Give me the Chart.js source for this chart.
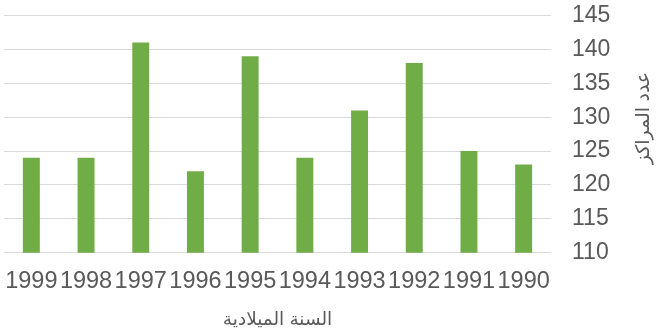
<!DOCTYPE html>
<html>
<head>
<meta charset="utf-8">
<script src="https://cdn.jsdelivr.net/npm/chart.js@4"></script>
<style>
  html, body { margin: 0; padding: 0; background: #fff; }
  #wrap { width: 659px; height: 335px; }
</style>
</head>
<body>
<div id="wrap"><canvas id="grafico"></canvas></div>
<script>
const anos = ['1999', '1998', '1997', '1996', '1995', '1994', '1993', '1992', '1991', '1990'];
const centros = [124, 124, 141, 122, 139, 124, 131, 138, 125, 123];
const yMin = 110;
const yMax = 145;
const yPasso = 5;
const tituloX = 'السنة الميلادية';
const tituloY = 'عدد المراكز';

const cinza = '#595959';
const fonte = "'Liberation Sans', Arial, 'DejaVu Sans', sans-serif";

// titulo do eixo Y desenhado a mao: fica a direita mas gira para cima (-90)
const tituloYPlugin = {
    id: 'tituloY',
    afterDraw(chart) {
        const ctx = chart.ctx;
        ctx.save();
        ctx.translate(644, 118);
        ctx.rotate(-Math.PI / 2);
        ctx.font = '19px ' + fonte;
        ctx.fillStyle = cinza;
        ctx.textAlign = 'center';
        ctx.textBaseline = 'middle';
        ctx.fillText(tituloY, 0, 0);
        ctx.restore();
    }
};

const ctx = document.getElementById('grafico').getContext('2d');
new Chart(ctx, {
    type: 'bar',
    data: {
        labels: anos,
        datasets: [{
            data: centros,
            backgroundColor: '#70AD47',
            barPercentage: 0.31,
            categoryPercentage: 1
        }]
    },
    options: {
        responsive: true,
        maintainAspectRatio: false,
        animation: false,
        layout: { padding: { top: 15.5, left: 4, right: 0, bottom: 0 } },
        plugins: {
            legend: { display: false },
            tooltip: { enabled: false }
        },
        scales: {
            x: {
                grid: { display: false, drawTicks: false },
                border: { display: false },
                ticks: {
                    color: cinza,
                    font: { family: fonte, size: 23.5 },
                    padding: 15,
                    maxRotation: 0,
                    autoSkip: false
                },
                title: {
                    display: true,
                    text: tituloX,
                    color: cinza,
                    font: { family: fonte, size: 18.5 },
                    padding: { top: 0, bottom: 4 }
                },
                afterFit: (scale) => {
                    scale.height = 82.3;
                    scale.paddingLeft = 0;
                    scale.paddingRight = 0;
                }
            },
            y: {
                position: 'right',
                min: yMin,
                max: yMax,
                grid: { color: '#D9D9D9', lineWidth: 1, drawTicks: false },
                border: { display: false },
                ticks: {
                    color: cinza,
                    font: { family: fonte, size: 23 },
                    padding: 21,
                    stepSize: yPasso,
                    autoSkip: false
                },
                afterFit: (scale) => {
                    scale.width = 108;
                    scale.paddingTop = 0;
                    scale.paddingBottom = 0;
                }
            }
        }
    },
    plugins: [tituloYPlugin]
});
</script>
</body>
</html>
